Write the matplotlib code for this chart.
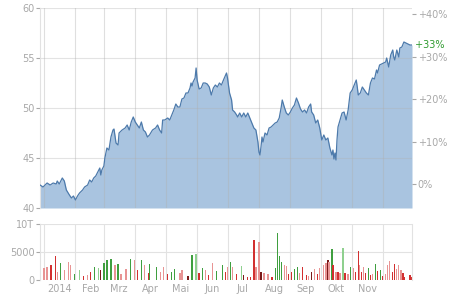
import numpy as np
import pandas as pd
import matplotlib
matplotlib.use("Agg")
import matplotlib.pyplot as plt

# days since 2014-01-01 and closing price
days = [-4, -1, 3, 6, 9, 12, 13, 15, 18, 20, 22, 25, 27, 29, 31, 33, 35, 38, 40, 43,
        45, 47, 49, 51, 53, 55, 56, 57, 59, 60, 62, 64, 66, 68, 69, 71, 73, 74, 77, 80,
        82, 84, 86, 88, 90, 92, 94, 96, 98, 100, 102, 104, 107, 110, 112, 114, 116, 117, 119, 122,
        124, 126, 128, 130, 132, 134, 136, 138, 140, 142, 144, 145, 146, 147, 149, 150, 151, 153, 155, 157,
        159, 161, 163, 165, 167, 169, 171, 173, 175, 177, 180, 181, 183, 185, 186, 188, 190, 191, 193, 195,
        197, 199, 201, 203, 205, 207, 209, 211, 212, 213, 214, 215, 216, 218, 220, 222, 224, 226, 228, 230,
        232, 234, 235, 237, 239, 241, 243, 245, 247, 249, 251, 253, 255, 257, 259, 261, 263, 264, 266, 268,
        270, 272, 274, 276, 278, 280, 282, 284, 285, 286, 287, 288, 289, 290, 292, 294, 296, 298, 300, 302,
        304, 306, 308, 309, 310, 312, 314, 316, 318, 320, 322, 324, 326, 328, 329, 331, 333, 335, 337, 338,
        340, 342, 344, 345, 346, 348, 350, 351, 353, 355, 357, 359, 361, 363]
price = [42.3, 42.1, 42.5, 42.3, 42.5, 42.4, 42.7, 42.4, 43.0, 42.7, 41.8, 41.3, 41.0, 41.2, 40.8, 41.2, 41.5, 41.8, 42.1, 42.3,
         42.8, 42.6, 43.0, 43.2, 43.6, 44.0, 43.3, 43.8, 44.2, 45.0, 46.0, 45.8, 47.1, 47.8, 47.9, 46.5, 46.3, 47.5, 47.8, 48.0,
         48.3, 47.8, 48.6, 49.1, 48.6, 48.3, 48.0, 48.6, 47.8, 47.6, 47.1, 47.3, 47.8, 48.0, 48.3, 47.8, 47.5, 48.8, 48.8, 49.0,
         48.8, 49.3, 49.8, 50.4, 50.1, 50.1, 50.9, 51.0, 51.5, 51.5, 52.0, 52.5, 52.2, 52.6, 53.0, 54.0, 52.8, 51.9, 52.0, 52.5,
         52.5, 52.4, 52.1, 51.3, 52.0, 52.3, 52.1, 52.5, 52.3, 52.8, 53.5, 53.0, 51.5, 50.8, 49.8, 49.6, 49.3, 49.1, 49.5, 49.1,
         49.5, 49.1, 49.5, 49.0, 48.5, 48.0, 47.8, 46.6, 45.6, 45.3, 46.1, 47.1, 46.6, 47.5, 47.3, 48.0, 48.1, 48.3, 48.5, 48.6,
         49.0, 50.1, 50.8, 50.1, 49.5, 49.3, 49.6, 50.0, 50.3, 51.0, 50.5, 49.9, 49.6, 49.8, 49.5, 50.1, 50.4, 49.6, 49.3, 48.5,
         48.8, 48.0, 46.8, 47.3, 46.8, 47.0, 46.0, 45.3, 45.8, 44.9, 45.5, 44.8, 46.8, 48.1, 48.8, 49.5, 49.6, 48.8, 49.8, 51.5,
         51.8, 52.3, 52.8, 52.1, 51.3, 51.5, 52.1, 51.8, 51.5, 51.3, 52.5, 53.0, 52.9, 53.8, 53.5, 54.3, 54.4, 54.5, 54.6, 55.0,
         54.1, 55.3, 55.8, 55.1, 54.8, 55.8, 55.1, 56.0, 56.1, 56.6, 56.5, 56.4, 56.3, 56.3]
base_price = 42.4

# volume bars: day, volume, colour code
vol_days = [-4, 0, 3, 7, 11, 13, 16, 20, 24, 26, 30, 35, 39, 43, 46, 50, 54, 56, 59, 62,
            66, 70, 73, 76, 81, 85, 89, 92, 96, 99, 103, 104, 111, 115, 118, 122, 126, 129, 134, 136,
            142, 146, 150, 153, 156, 159, 162, 166, 170, 176, 179, 181, 184, 186, 190, 195, 197, 201, 204, 207,
            209, 212, 214, 217, 221, 225, 228, 230, 232, 234, 237, 239, 241, 244, 247, 250, 252, 255, 259, 261,
            264, 267, 270, 272, 276, 278, 280, 281, 284, 285, 288, 290, 292, 295, 297, 300, 302, 305, 307, 310,
            311, 313, 315, 317, 320, 322, 324, 327, 329, 332, 334, 337, 339, 341, 344, 346, 348, 350, 352, 354,
            355, 361, 363]
volume = [2700, 2100, 2300, 2700, 4300, 1400, 3000, 1800, 3200, 2700, 1100, 1800, 700, 900, 1400, 2300, 2100, 1800, 3000, 3600,
          3700, 2700, 2900, 1100, 2000, 3700, 3600, 1800, 3600, 2700, 1200, 2900, 2300, 1400, 2300, 1100, 1400, 2000, 1200, 1800,
          700, 4500, 4600, 1200, 2100, 1800, 900, 3000, 1600, 2700, 1400, 2300, 3200, 2300, 1100, 2500, 900, 500, 500, 7100,
          2300, 6800, 1400, 1200, 1100, 500, 2100, 8400, 4300, 3200, 2700, 2500, 1100, 1400, 2000, 2300, 1200, 2300, 900, 700,
          1400, 2000, 1100, 2100, 2700, 3000, 3600, 3200, 5500, 2700, 1400, 1400, 1200, 5700, 1200, 1100, 2300, 2100, 1400, 5200,
          2700, 1400, 2300, 1200, 2100, 900, 1100, 2900, 1600, 1800, 700, 1100, 2700, 3400, 1400, 2900, 2000, 2700, 1800, 1200,
          500, 900, 500]
vol_kind = ["r", "lr", "lr", "r", "r", "lr", "g", "lr", "lr", "lr", "g", "lg", "r", "lr", "r", "g", "lg", "d", "g", "g",
            "g", "lr", "g", "lr", "lr", "g", "lr", "r", "g", "lr", "r", "g", "g", "lr", "lr", "r", "g", "g", "lr", "lr",
            "d", "g", "lg", "r", "g", "lr", "r", "lr", "g", "g", "r", "lr", "g", "lr", "r", "lg", "d", "r", "r", "r",
            "lr", "lr", "d", "lr", "lr", "r", "g", "g", "g", "g", "lr", "lr", "r", "r", "g", "g", "lr", "r", "r", "lr",
            "d", "lr", "r", "lr", "lr", "lr", "d", "lr", "g", "r", "lr", "r", "lr", "lg", "r", "lr", "g", "lr", "r", "r",
            "lr", "r", "lr", "r", "g", "r", "lr", "g", "r", "g", "r", "lr", "lr", "lr", "r", "r", "lr", "lr", "lr", "r",
            "r", "r", "r"]
kind_colors = {"g": "#3f9f3f", "lg": "#8fd08f", "r": "#d23030", "lr": "#e89494", "d": "#7a1a1a"}

month_labels = ["2014", "Feb", "Mrz", "Apr", "Mai", "Jun", "Jul", "Aug", "Sep", "Okt", "Nov"]
month_starts = (pd.date_range("2014-01-01", periods=12, freq="MS").dayofyear - 1).to_numpy()

grey = "#a8a8a8"
grid_c = "#e2e2e2"

fig = plt.figure(figsize=(4.5, 3), dpi=100)
ax = fig.add_axes([40 / 450, 92 / 300, 372 / 450, 200 / 300])
axv = fig.add_axes([40 / 450, 20 / 300, 372 / 450, 56 / 300], sharex=ax)

# price panel
ax.fill_between(days, price, 40, color="#a9c4e0", lw=0, zorder=1)
ax.plot(days, price, color="#4d7aab", lw=0.9, zorder=3)
ax.set_ylim(40, 60)
ax.set_xlim(days[0], days[-1])
ax.set_yticks([40, 45, 50, 55, 60])
for v in [45, 50, 55, 60]:
    ax.axhline(v, color="#b0b0b0", lw=0.8, alpha=0.35, zorder=2)
for m in month_starts:
    ax.axvline(m, color="#b0b0b0", lw=0.8, alpha=0.4, zorder=2)

# percent axis
axp = ax.twinx()
axp.set_ylim((40 / base_price - 1) * 100, (60 / base_price - 1) * 100)
axp.set_yticks([0, 10, 20, 30, 40])
axp.set_yticklabels(["0%", "+10%", "+20%", "+30%", "+40%"])
last_pct = (price[-1] / base_price - 1) * 100
axp.text(1.0, last_pct, " +%d%%" % round(last_pct), transform=axp.get_yaxis_transform(),
         color="#2e9a2e", fontsize=7, va="center", ha="left")

# volume panel
axv.bar(vol_days, volume, width=1.3, color=[kind_colors[k] for k in vol_kind], lw=0, zorder=2)
axv.set_ylim(0, 10000)
axv.set_yticks([0, 5000, 10000])
axv.set_yticklabels(["0", "5000", "10T"])
for v in [5000, 10000]:
    axv.axhline(v, color=grid_c, lw=0.8, zorder=1)
for m in month_starts:
    axv.axvline(m, color=grid_c, lw=0.8, zorder=1)
axv.set_xticks(month_starts[:11] + 15)
axv.set_xticklabels(month_labels)

for a in (ax, axp, axv):
    for s in a.spines.values():
        s.set_visible(False)
    a.tick_params(colors=grey, labelcolor=grey, labelsize=7, length=3, width=0.8, pad=1)
ax.tick_params(axis="x", bottom=False, labelbottom=False)
axv.tick_params(axis="x", length=0, pad=3)
ax.spines["left"].set_visible(True)
ax.spines["left"].set_color(grid_c)
axv.spines["left"].set_visible(True)
axv.spines["left"].set_color(grid_c)
axv.spines["right"].set_visible(True)
axv.spines["right"].set_color(grid_c)

fig.savefig("out.png", dpi=100)
